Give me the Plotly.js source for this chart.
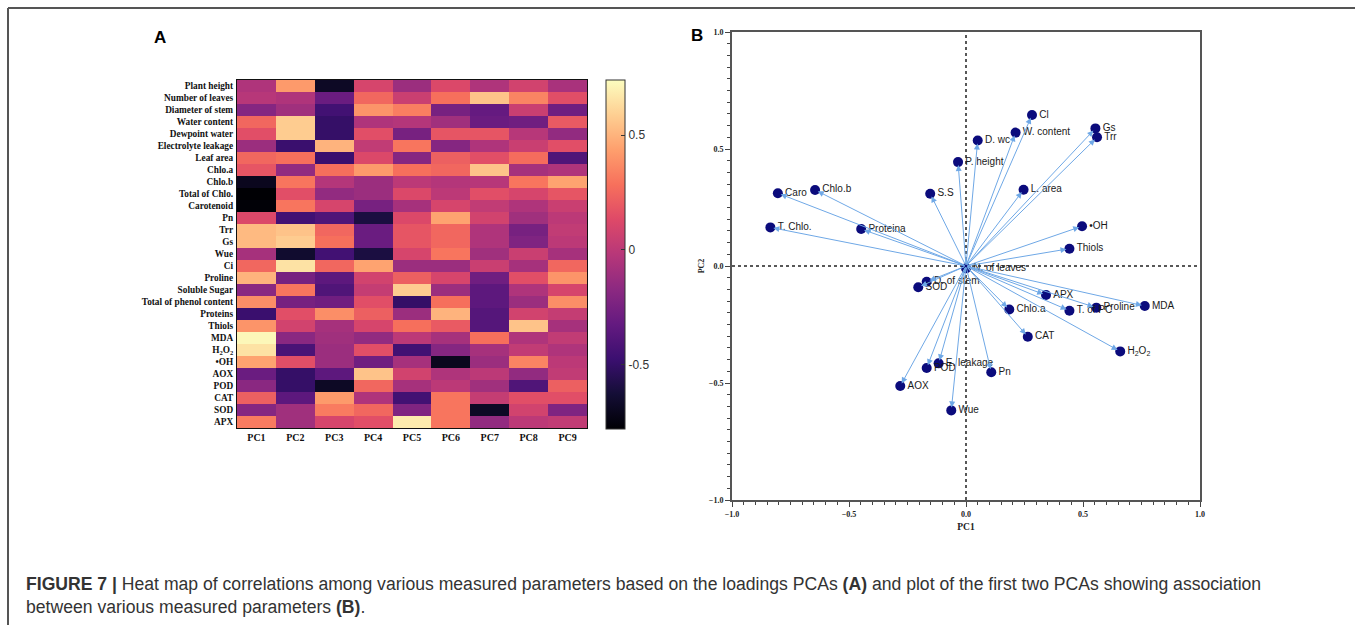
<!DOCTYPE html>
<html>
<head>
<meta charset="utf-8">
<script src="https://cdn.plot.ly/plotly-3.0.1.min.js"></script>
<style>
html,body{margin:0;padding:0;background:#fff;}
#chart{width:1355px;height:625px;}
</style>
</head>
<body>
<div id="chart"></div>
<script>
// ---------- Panel A: heat map of PCA loadings ----------
const rowLabels = ["Plant height","Number of leaves","Diameter of stem","Water content","Dewpoint water",
  "Electrolyte leakage","Leaf area","Chlo.a","Chlo.b","Total of Chlo.","Carotenoid","Pn","Trr","Gs","Wue","Ci",
  "Proline","Soluble Sugar","Total of phenol content","Proteins","Thiols","MDA","H<sub>2</sub>O<sub>2</sub>","•OH",
  "AOX","POD","CAT","SOD","APX"];
const pcLabels = ["PC1","PC2","PC3","PC4","PC5","PC6","PC7","PC8","PC9"];

const pc1 = [-0.05,-0.02,-0.20,0.25,0.15,-0.12,0.25,0.18,-0.70,-0.78,-0.77,0.12,0.52,0.52,-0.08,0.25,0.50,-0.18,0.38,-0.48,0.40,0.72,0.65,0.45,-0.30,-0.18,0.22,-0.20,0.32];
const pc2 = [0.42,-0.05,-0.10,0.58,0.58,-0.48,0.28,-0.15,0.30,0.15,0.30,-0.45,0.55,0.58,-0.65,0.65,-0.25,0.30,-0.25,0.15,0.08,-0.18,-0.42,0.15,-0.50,-0.50,-0.35,-0.10,-0.10];
const pc3 = [-0.68,-0.30,-0.45,-0.50,-0.50,0.50,-0.48,0.28,-0.03,-0.15,0.10,-0.40,0.25,0.28,-0.45,0.25,-0.35,-0.40,-0.28,0.38,-0.08,-0.10,-0.12,-0.12,-0.35,-0.68,0.42,0.32,0.10];
const pc4 = [0.10,0.25,0.40,-0.05,0.15,0.02,0.12,0.42,-0.12,-0.12,-0.25,-0.60,-0.30,-0.30,-0.60,0.45,0.08,0.03,0.15,0.22,0.10,-0.15,0.15,-0.28,0.55,0.25,-0.05,0.25,0.15];
const pc5 = [-0.12,0.05,0.33,-0.03,-0.25,0.30,-0.20,0.28,0.00,0.12,-0.08,0.12,0.18,0.18,0.10,-0.12,0.22,0.58,-0.50,-0.12,0.28,0.00,-0.45,-0.08,0.08,-0.08,-0.45,-0.22,0.68];
const pc6 = [0.12,0.28,-0.25,-0.10,0.18,-0.20,0.22,0.25,-0.03,0.00,0.10,0.45,0.25,0.25,0.30,-0.12,0.10,-0.12,0.28,0.50,0.20,-0.08,-0.20,-0.70,-0.05,0.00,0.30,0.30,0.30];
const pc7 = [-0.05,0.55,-0.32,-0.30,0.18,-0.05,0.15,0.55,-0.02,0.15,0.02,0.08,-0.05,-0.05,-0.10,0.05,-0.28,-0.35,-0.35,-0.38,-0.38,0.28,-0.08,-0.12,0.00,-0.10,0.03,-0.68,-0.15];
const pc8 = [0.08,0.35,0.05,-0.28,-0.02,0.05,0.27,-0.08,0.30,0.10,-0.05,-0.10,-0.25,-0.22,0.05,-0.08,0.15,-0.05,-0.12,0.08,0.55,-0.05,0.02,0.35,-0.15,-0.40,0.15,0.08,0.00];
const pc9 = [-0.07,0.15,-0.28,0.20,-0.15,0.15,-0.40,-0.05,0.45,0.18,0.05,0.00,0.02,0.00,-0.08,0.25,0.40,0.10,0.38,0.03,-0.08,0.02,-0.05,0.00,0.02,0.22,0.15,-0.22,0.02];

// ---------- Panel B: biplot of PC1 vs PC2 loadings ----------
const varNames = ["Cl","W. content","D. wc","P. height","Gs","Trr","L. area","•OH","Thiols","N. of leaves",
  "Caro","Chlo.b","S.S","T. Chlo.","Proteina","D. of stem","SOD","E. leakage","POD","AOX","Wue","Pn",
  "APX","Chlo.a","T. of PC","Proline","MDA","CAT","H<sub>2</sub>O<sub>2</sub>"];
const loadPC1 = [0.282,0.212,0.050,-0.034,0.553,0.560,0.246,0.496,0.442,0.000,
  -0.804,-0.645,-0.153,-0.836,-0.448,-0.168,-0.204,-0.117,-0.168,-0.281,-0.063,0.108,
  0.342,0.185,0.442,0.557,0.764,0.264,0.659];
const loadPC2 = [0.645,0.570,0.536,0.444,0.588,0.550,0.326,0.170,0.074,-0.010,
  0.311,0.325,0.309,0.165,0.158,-0.067,-0.091,-0.416,-0.436,-0.513,-0.617,-0.454,
  -0.124,-0.186,-0.191,-0.178,-0.171,-0.302,-0.365];

const caption = "<b>FIGURE 7 |</b> Heat map of correlations among various measured parameters based on the loadings PCAs <b>(A)</b> and plot of the first two PCAs showing association<br>between various measured parameters <b>(B)</b>.";

// ---------- build ----------
const W = 1355, H = 625;
const px = v => v / W;
const py = v => 1 - v / H;

const cols = [pc1,pc2,pc3,pc4,pc5,pc6,pc7,pc8,pc9];
const z = rowLabels.map((_, i) => cols.map(c => c[i]));

const magma = [
  [0.0,"#000004"],[0.1,"#140e36"],[0.2,"#3b0f70"],[0.3,"#641a80"],[0.4,"#8c2981"],
  [0.5,"#b73779"],[0.6,"#de4968"],[0.7,"#f7705c"],[0.8,"#fe9f6d"],[0.9,"#fecf92"],[1.0,"#fcfdbf"]
];

const serif = "Liberation Serif, Times New Roman, serif";
const sans = "Liberation Sans, Arial, sans-serif";

const heat = {
  type: "heatmap",
  x: pcLabels, y: rowLabels, z: z,
  xaxis: "x", yaxis: "y",
  colorscale: magma, zmin: -0.78, zmax: 0.74,
  xgap: 0, ygap: 0,
  colorbar: {
    x: px(606), xanchor: "left", thickness: 19, thicknessmode: "pixels",
    y: py(254.5), yanchor: "middle", len: 349 / H, lenmode: "fraction",
    outlinewidth: 1, outlinecolor: "#333",
    tickvals: [-0.5, 0, 0.5], ticktext: ["-0.5","0","0.5"],
    ticks: "inside", ticklen: 4, tickcolor: "#333",
    tickfont: {family: sans, size: 12, color: "#333"},
    xpad: 0, ypad: 0
  }
};

const pts = {
  type: "scatter", mode: "markers+text",
  x: loadPC1, y: loadPC2, text: varNames,
  xaxis: "x2", yaxis: "y2",
  textposition: "middle right",
  textfont: {family: sans, size: 10, color: "#1a1a1a"},
  marker: {size: 10, color: "#0b0b7c"},
  cliponaxis: false,
  hoverinfo: "x+y+text"
};

const arrows = varNames.map((n, i) => ({
  xref: "x2", yref: "y2", axref: "x2", ayref: "y2",
  x: loadPC1[i], y: loadPC2[i], ax: 0, ay: 0,
  text: "", showarrow: true, arrowhead: 2, arrowsize: 1.2, arrowwidth: 1,
  arrowcolor: "#6fa8e6", standoff: 3
}));

const annotations = arrows.concat([
  {xref: "paper", yref: "paper", x: px(160), y: py(37), text: "<b>A</b>", showarrow: false,
   font: {family: sans, size: 17, color: "#000"}, xanchor: "center", yanchor: "middle"},
  {xref: "paper", yref: "paper", x: px(697), y: py(35), text: "<b>B</b>", showarrow: false,
   font: {family: sans, size: 17, color: "#000"}, xanchor: "center", yanchor: "middle"},
  {xref: "paper", yref: "paper", x: px(24), y: py(595), text: caption, showarrow: false,
   align: "left", xanchor: "left", yanchor: "middle",
   font: {family: sans, size: 17.6, color: "#333"}}
]);

const shapes = [
  {type: "line", xref: "paper", yref: "paper", x0: px(8), x1: px(1360), y0: py(8), y1: py(8),
   line: {color: "#555", width: 2}},
  {type: "line", xref: "paper", yref: "paper", x0: px(8), x1: px(8), y0: py(8), y1: py(640),
   line: {color: "#555", width: 2}},
  {type: "line", xref: "x2", yref: "y2 domain", x0: 0, x1: 0, y0: 0, y1: 1,
   line: {color: "#222", width: 1.5, dash: "dot"}, layer: "below"},
  {type: "line", xref: "x2 domain", yref: "y2", x0: 0, x1: 1, y0: 0, y1: 0,
   line: {color: "#222", width: 1.5, dash: "dot"}, layer: "below"}
];

const layout = {
  width: W, height: H,
  margin: {l: 0, r: 0, t: 0, b: 0},
  paper_bgcolor: "#fff", plot_bgcolor: "#fff",
  showlegend: false,
  xaxis: {
    domain: [px(237), px(587)], anchor: "y",
    showgrid: false, zeroline: false, ticks: "",
    showline: true, mirror: true, linecolor: "#111", linewidth: 1,
    tickfont: {family: serif, size: 10, color: "#111", weight: "bold"},
    fixedrange: true
  },
  yaxis: {
    domain: [py(428), py(80)], anchor: "x",
    autorange: "reversed",
    showgrid: false, zeroline: false, ticks: "",
    showline: true, mirror: true, linecolor: "#111", linewidth: 1,
    tickfont: {family: serif, size: 9.3, color: "#111", weight: "bold"},
    ticklabelstandoff: 1,
    fixedrange: true
  },
  xaxis2: {
    domain: [px(732), px(1200)], anchor: "y2",
    range: [-1, 1], dtick: 0.5, tick0: 0,
    tickformat: ".1f",
    showgrid: false, zeroline: false,
    showline: true, mirror: true, linecolor: "#555", linewidth: 2,
    ticks: "outside", ticklen: 5, tickcolor: "#444",
    minor: {dtick: 0.05, ticks: "outside", ticklen: 3, tickcolor: "#444", showgrid: false},
    tickfont: {family: serif, size: 8, color: "#222", weight: "bold"},
    title: {text: "<b>PC1</b>", font: {family: serif, size: 9.5, color: "#222"}, standoff: 6},
    fixedrange: true
  },
  yaxis2: {
    domain: [py(500), py(32)], anchor: "x2",
    range: [-1, 1], dtick: 0.5, tick0: 0,
    tickformat: ".1f",
    showgrid: false, zeroline: false,
    showline: true, mirror: true, linecolor: "#555", linewidth: 2,
    ticks: "outside", ticklen: 5, tickcolor: "#444",
    minor: {dtick: 0.05, ticks: "outside", ticklen: 3, tickcolor: "#444", showgrid: false},
    tickfont: {family: serif, size: 8, color: "#222", weight: "bold"},
    title: {text: "<b>PC2</b>", font: {family: serif, size: 8, color: "#222"}, standoff: 3},
    fixedrange: true
  },
  annotations: annotations,
  shapes: shapes
};

Plotly.newPlot("chart", [heat, pts], layout, {displayModeBar: false, staticPlot: true});
</script>
</body>
</html>
